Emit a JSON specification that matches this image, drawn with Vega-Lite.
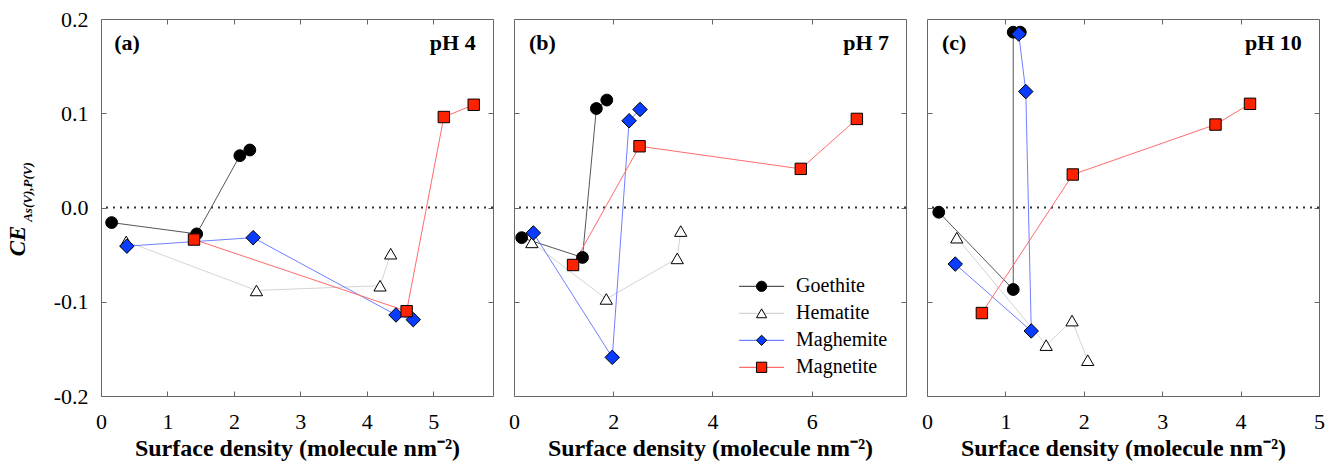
{
  "$schema": "https://vega.github.io/schema/vega-lite/v6.json",
  "background": "white",
  "padding": {"left": 5, "top": 7, "right": 5, "bottom": 2},
  "spacing": 13,
  "config": {
    "font": "Times New Roman",
    "view": {"stroke": "#666", "strokeWidth": 1},
    "axis": {
      "grid": false, "domain": false, "tickColor": "#666", "tickSize": -5, "tickWidth": 1,
      "labelFont": "Times New Roman", "labelFontSize": 22, "labelColor": "#000", "labelFontWeight": "normal",
      "labelFlush": false, "labelOverlap": false,
      "titleFont": "Liberation Serif", "titleColor": "#000", "titleFontSize": 24, "titleFontWeight": "bold"
    }
  },
  "datasets": {
    "pts": [
      {"pH": 4, "mineral": "Goethite", "step": 1, "x": 0.16, "y": -0.016},
      {"pH": 4, "mineral": "Goethite", "step": 2, "x": 1.44, "y": -0.028},
      {"pH": 4, "mineral": "Goethite", "step": 3, "x": 2.09, "y": 0.055},
      {"pH": 4, "mineral": "Goethite", "step": 4, "x": 2.24, "y": 0.061},
      {"pH": 4, "mineral": "Hematite", "step": 1, "x": 0.38, "y": -0.036},
      {"pH": 4, "mineral": "Hematite", "step": 2, "x": 2.34, "y": -0.088},
      {"pH": 4, "mineral": "Hematite", "step": 3, "x": 4.2, "y": -0.083},
      {"pH": 4, "mineral": "Hematite", "step": 4, "x": 4.36, "y": -0.049},
      {"pH": 4, "mineral": "Maghemite", "step": 1, "x": 0.39, "y": -0.041},
      {"pH": 4, "mineral": "Maghemite", "step": 2, "x": 2.29, "y": -0.032},
      {"pH": 4, "mineral": "Maghemite", "step": 3, "x": 4.44, "y": -0.114},
      {"pH": 4, "mineral": "Maghemite", "step": 4, "x": 4.7, "y": -0.119},
      {"pH": 4, "mineral": "Magnetite", "step": 1, "x": 1.4, "y": -0.034},
      {"pH": 4, "mineral": "Magnetite", "step": 2, "x": 4.6, "y": -0.11},
      {"pH": 4, "mineral": "Magnetite", "step": 3, "x": 5.16, "y": 0.096},
      {"pH": 4, "mineral": "Magnetite", "step": 4, "x": 5.61, "y": 0.109},
      {"pH": 7, "mineral": "Goethite", "step": 1, "x": 0.155, "y": -0.032},
      {"pH": 7, "mineral": "Goethite", "step": 2, "x": 1.38, "y": -0.053},
      {"pH": 7, "mineral": "Goethite", "step": 3, "x": 1.66, "y": 0.105},
      {"pH": 7, "mineral": "Goethite", "step": 4, "x": 1.87, "y": 0.114},
      {"pH": 7, "mineral": "Hematite", "step": 1, "x": 0.36, "y": -0.037},
      {"pH": 7, "mineral": "Hematite", "step": 2, "x": 1.86, "y": -0.097},
      {"pH": 7, "mineral": "Hematite", "step": 3, "x": 3.29, "y": -0.054},
      {"pH": 7, "mineral": "Hematite", "step": 4, "x": 3.36, "y": -0.025},
      {"pH": 7, "mineral": "Maghemite", "step": 1, "x": 0.39, "y": -0.027},
      {"pH": 7, "mineral": "Maghemite", "step": 2, "x": 1.98, "y": -0.159},
      {"pH": 7, "mineral": "Maghemite", "step": 3, "x": 2.32, "y": 0.092},
      {"pH": 7, "mineral": "Maghemite", "step": 4, "x": 2.54, "y": 0.104},
      {"pH": 7, "mineral": "Magnetite", "step": 1, "x": 1.19, "y": -0.061},
      {"pH": 7, "mineral": "Magnetite", "step": 2, "x": 2.53, "y": 0.065},
      {"pH": 7, "mineral": "Magnetite", "step": 3, "x": 5.78, "y": 0.041},
      {"pH": 7, "mineral": "Magnetite", "step": 4, "x": 6.91, "y": 0.094},
      {"pH": 10, "mineral": "Goethite", "step": 1, "x": 0.15, "y": -0.005},
      {"pH": 10, "mineral": "Goethite", "step": 2, "x": 1.1, "y": -0.087},
      {"pH": 10, "mineral": "Goethite", "step": 3, "x": 1.1, "y": 0.186},
      {"pH": 10, "mineral": "Goethite", "step": 4, "x": 1.19, "y": 0.186},
      {"pH": 10, "mineral": "Hematite", "step": 1, "x": 0.38, "y": -0.032},
      {"pH": 10, "mineral": "Hematite", "step": 2, "x": 1.52, "y": -0.146},
      {"pH": 10, "mineral": "Hematite", "step": 3, "x": 1.85, "y": -0.12},
      {"pH": 10, "mineral": "Hematite", "step": 4, "x": 2.05, "y": -0.162},
      {"pH": 10, "mineral": "Maghemite", "step": 1, "x": 0.36, "y": -0.06},
      {"pH": 10, "mineral": "Maghemite", "step": 2, "x": 1.33, "y": -0.131},
      {"pH": 10, "mineral": "Maghemite", "step": 3, "x": 1.26, "y": 0.123},
      {"pH": 10, "mineral": "Maghemite", "step": 4, "x": 1.17, "y": 0.184},
      {"pH": 10, "mineral": "Magnetite", "step": 1, "x": 0.7, "y": -0.112},
      {"pH": 10, "mineral": "Magnetite", "step": 2, "x": 1.86, "y": 0.035},
      {"pH": 10, "mineral": "Magnetite", "step": 3, "x": 3.68, "y": 0.088},
      {"pH": 10, "mineral": "Magnetite", "step": 4, "x": 4.12, "y": 0.11}
    ],
    "legendRows": [
      {"mineral": "Goethite"},
      {"mineral": "Hematite"},
      {"mineral": "Maghemite"},
      {"mineral": "Magnetite"}
    ]
  },
  "hconcat": [
    {
      "width": 392, "height": 377,
      "layer": [
        {
          "data": {"values": [{}]},
          "mark": {"type": "rule", "strokeDash": [2, 5], "strokeWidth": 2, "color": "#333"},
          "encoding": {
            "y": {"datum": 0, "type": "quantitative", "scale": {"domain": [-0.2, 0.2], "nice": false},
                  "axis": {"orient": "left", "labels": false, "ticks": false, "title": "As(V),P(V)", "titleFontSize": 13, "titleFontStyle": "italic", "titleFontWeight": "bold", "titleAngle": 270, "titleX": -69.7, "titleY": 172.5, "titleAlign": "center", "titleBaseline": "alphabetic"}}
          }
        },
        {
          "data": {"name": "pts"},
          "transform": [{"filter": "datum.pH == 4"}],
          "mark": {"type": "line", "strokeWidth": 1},
          "encoding": {
            "x": {"field": "x", "type": "quantitative", "scale": {"domain": [0, 5.9], "nice": false, "zero": false},
                  "axis": {"orient": "bottom", "values": [0, 1, 2, 3, 4, 5], "labelPadding": 20, "titlePadding": 4, "title": "Surface density (molecule nm⁻²)"}},
            "y": {"field": "y", "type": "quantitative", "scale": {"domain": [-0.2, 0.2], "nice": false},
                  "axis": {"orient": "left", "values": [-0.2, -0.1, 0, 0.1, 0.2], "labelExpr": "replace(format(datum.value, '.1f'), '\u2212', '-')", "labelPadding": 18, "title": "CE", "titleFontSize": 23, "titleFontStyle": "italic", "titleFontWeight": "bold", "titleAngle": 270, "titleX": -76.7, "titleY": 221.5, "titleAlign": "center", "titleBaseline": "alphabetic"}},
            "stroke": {"field": "mineral", "type": "nominal",
                       "scale": {"domain": ["Goethite", "Hematite", "Maghemite", "Magnetite"], "range": ["#555555", "#d4d4d4", "#6f7fff", "#ff6b6b"]},
                       "legend": null},
            "order": {"field": "step", "type": "quantitative"}
          }
        },
        {
          "data": {"name": "pts"},
          "transform": [{"filter": "datum.pH == 4"}],
          "mark": {"type": "point", "filled": true, "stroke": "#000", "strokeWidth": 1, "opacity": 1},
          "encoding": {
            "x": {"field": "x", "type": "quantitative", "axis": {"orient": "top", "labels": false, "title": null, "values": [1, 2, 3, 4, 5]}},
            "y": {"field": "y", "type": "quantitative", "axis": {"orient": "right", "labels": false, "title": null, "values": [-0.1, 0, 0.1]}},
            "shape": {"field": "mineral", "type": "nominal", "scale": {"domain": ["Goethite", "Hematite", "Maghemite", "Magnetite"], "range": ["circle", "triangle-up", "diamond", "square"]}, "legend": null},
            "fill": {"field": "mineral", "type": "nominal", "scale": {"domain": ["Goethite", "Hematite", "Maghemite", "Magnetite"], "range": ["#000000", "#ffffff", "#0a3cff", "#ff2200"]}, "legend": null},
            "size": {"field": "mineral", "type": "nominal", "scale": {"type": "ordinal", "domain": ["Goethite", "Hematite", "Maghemite", "Magnetite"], "range": [140, 150, 210, 130]}, "legend": null}
          }
        },
        {
          "data": {"values": [{}]},
          "mark": {"type": "text", "text": "(a)", "font": "Liberation Serif", "fontSize": 22, "fontWeight": "bold", "align": "left", "baseline": "alphabetic"},
          "encoding": {"x": {"datum": 0.2, "type": "quantitative", "axis": null}, "y": {"datum": 0.1675, "type": "quantitative", "axis": null}}
        },
        {
          "data": {"values": [{}]},
          "mark": {"type": "text", "text": "pH 4", "font": "Liberation Serif", "fontSize": 22, "fontWeight": "bold", "align": "right", "baseline": "alphabetic"},
          "encoding": {"x": {"datum": 5.64, "type": "quantitative", "axis": null}, "y": {"datum": 0.1675, "type": "quantitative", "axis": null}}
        }
      ],
      "resolve": {"axis": {"x": "independent", "y": "independent"}}
    },
    {
      "width": 392, "height": 377,
      "layer": [
        {
          "data": {"values": [{}]},
          "mark": {"type": "rule", "strokeDash": [2, 5], "strokeWidth": 2, "color": "#333"},
          "encoding": {
            "y": {"datum": 0, "type": "quantitative", "scale": {"domain": [-0.2, 0.2], "nice": false}, "axis": null}
          }
        },
        {
          "data": {"name": "pts"},
          "transform": [{"filter": "datum.pH == 7"}],
          "mark": {"type": "line", "strokeWidth": 1},
          "encoding": {
            "x": {"field": "x", "type": "quantitative", "scale": {"domain": [0, 7.9], "nice": false, "zero": false},
                  "axis": {"orient": "bottom", "values": [0, 2, 4, 6], "labelPadding": 20, "titlePadding": 4, "title": "Surface density (molecule nm⁻²)"}},
            "y": {"field": "y", "type": "quantitative", "scale": {"domain": [-0.2, 0.2], "nice": false},
                  "axis": {"orient": "left", "values": [-0.1, 0, 0.1], "labels": false, "title": null}},
            "stroke": {"field": "mineral", "type": "nominal", "scale": {"domain": ["Goethite", "Hematite", "Maghemite", "Magnetite"], "range": ["#555555", "#d4d4d4", "#6f7fff", "#ff6b6b"]}, "legend": null},
            "order": {"field": "step", "type": "quantitative"}
          }
        },
        {
          "data": {"name": "pts"},
          "transform": [{"filter": "datum.pH == 7"}],
          "mark": {"type": "point", "filled": true, "stroke": "#000", "strokeWidth": 1, "opacity": 1},
          "encoding": {
            "x": {"field": "x", "type": "quantitative", "axis": {"orient": "top", "labels": false, "title": null, "values": [2, 4, 6]}},
            "y": {"field": "y", "type": "quantitative", "scale": {"domain": [-0.2, 0.2], "nice": false}, "axis": {"orient": "right", "labels": false, "title": null, "values": [-0.1, 0, 0.1]}},
            "shape": {"field": "mineral", "type": "nominal", "scale": {"domain": ["Goethite", "Hematite", "Maghemite", "Magnetite"], "range": ["circle", "triangle-up", "diamond", "square"]}, "legend": null},
            "fill": {"field": "mineral", "type": "nominal", "scale": {"domain": ["Goethite", "Hematite", "Maghemite", "Magnetite"], "range": ["#000000", "#ffffff", "#0a3cff", "#ff2200"]}, "legend": null},
            "size": {"field": "mineral", "type": "nominal", "scale": {"type": "ordinal", "domain": ["Goethite", "Hematite", "Maghemite", "Magnetite"], "range": [140, 150, 210, 130]}, "legend": null}
          }
        },
        {
          "data": {"name": "legendRows"},
          "mark": {"type": "rule", "strokeWidth": 1.3},
          "encoding": {
            "x": {"datum": 4.536, "type": "quantitative", "axis": null},
            "x2": {"datum": 5.444},
            "y": {"field": "mineral", "type": "nominal", "axis": null, "scale": {"type": "point", "domain": ["Goethite", "Hematite", "Maghemite", "Magnetite"], "range": [267.3, 348.3], "padding": 0}},
            "stroke": {"field": "mineral", "type": "nominal", "scale": {"domain": ["Goethite", "Hematite", "Maghemite", "Magnetite"], "range": ["#555555", "#d4d4d4", "#6f7fff", "#ff6b6b"]}, "legend": null}
          }
        },
        {
          "data": {"name": "legendRows"},
          "mark": {"type": "point", "filled": true, "stroke": "#000", "strokeWidth": 1, "opacity": 1, "size": 105},
          "encoding": {
            "x": {"datum": 4.99, "type": "quantitative", "axis": null},
            "y": {"field": "mineral", "type": "nominal", "axis": null, "scale": {"type": "point", "domain": ["Goethite", "Hematite", "Maghemite", "Magnetite"], "range": [267.3, 348.3], "padding": 0}},
            "shape": {"field": "mineral", "type": "nominal", "scale": {"domain": ["Goethite", "Hematite", "Maghemite", "Magnetite"], "range": ["circle", "triangle-up", "diamond", "square"]}, "legend": null},
            "fill": {"field": "mineral", "type": "nominal", "scale": {"domain": ["Goethite", "Hematite", "Maghemite", "Magnetite"], "range": ["#000000", "#ffffff", "#0a3cff", "#ff2200"]}, "legend": null}
          }
        },
        {
          "data": {"name": "legendRows"},
          "mark": {"type": "text", "font": "Times New Roman", "fontSize": 20, "fontWeight": "normal", "align": "left", "baseline": "middle", "color": "#000"},
          "encoding": {
            "x": {"datum": 5.685, "type": "quantitative", "axis": null},
            "y": {"field": "mineral", "type": "nominal", "axis": null, "scale": {"type": "point", "domain": ["Goethite", "Hematite", "Maghemite", "Magnetite"], "range": [267.3, 348.3], "padding": 0}},
            "text": {"field": "mineral", "type": "nominal"}
          }
        },
        {
          "data": {"values": [{}]},
          "mark": {"type": "text", "text": "(b)", "font": "Liberation Serif", "fontSize": 22, "fontWeight": "bold", "align": "left", "baseline": "alphabetic"},
          "encoding": {"x": {"datum": 0.3, "type": "quantitative", "axis": null}, "y": {"datum": 0.1675, "type": "quantitative", "scale": {"domain": [-0.2, 0.2], "nice": false}, "axis": null}}
        },
        {
          "data": {"values": [{}]},
          "mark": {"type": "text", "text": "pH 7", "font": "Liberation Serif", "fontSize": 22, "fontWeight": "bold", "align": "right", "baseline": "alphabetic"},
          "encoding": {"x": {"datum": 7.56, "type": "quantitative", "axis": null}, "y": {"datum": 0.1675, "type": "quantitative", "scale": {"domain": [-0.2, 0.2], "nice": false}, "axis": null}}
        }
      ],
      "resolve": {"scale": {"y": "independent"}, "axis": {"x": "independent", "y": "independent"}}
    },
    {
      "width": 392, "height": 377,
      "layer": [
        {
          "data": {"values": [{}]},
          "mark": {"type": "rule", "strokeDash": [2, 5], "strokeWidth": 2, "color": "#333"},
          "encoding": {
            "y": {"datum": 0, "type": "quantitative", "scale": {"domain": [-0.2, 0.2], "nice": false}, "axis": null}
          }
        },
        {
          "data": {"name": "pts"},
          "transform": [{"filter": "datum.pH == 10"}],
          "mark": {"type": "line", "strokeWidth": 1},
          "encoding": {
            "x": {"field": "x", "type": "quantitative", "scale": {"domain": [0, 5], "nice": false, "zero": false},
                  "axis": {"orient": "bottom", "values": [0, 1, 2, 3, 4, 5], "labelPadding": 20, "titlePadding": 4, "title": "Surface density (molecule nm⁻²)"}},
            "y": {"field": "y", "type": "quantitative", "scale": {"domain": [-0.2, 0.2], "nice": false},
                  "axis": {"orient": "left", "values": [-0.1, 0, 0.1], "labels": false, "title": null}},
            "stroke": {"field": "mineral", "type": "nominal", "scale": {"domain": ["Goethite", "Hematite", "Maghemite", "Magnetite"], "range": ["#555555", "#d4d4d4", "#6f7fff", "#ff6b6b"]}, "legend": null},
            "order": {"field": "step", "type": "quantitative"}
          }
        },
        {
          "data": {"name": "pts"},
          "transform": [{"filter": "datum.pH == 10"}],
          "mark": {"type": "point", "filled": true, "stroke": "#000", "strokeWidth": 1, "opacity": 1},
          "encoding": {
            "x": {"field": "x", "type": "quantitative", "axis": {"orient": "top", "labels": false, "title": null, "values": [1, 2, 3, 4]}},
            "y": {"field": "y", "type": "quantitative", "axis": {"orient": "right", "labels": false, "title": null, "values": [-0.1, 0, 0.1]}},
            "shape": {"field": "mineral", "type": "nominal", "scale": {"domain": ["Goethite", "Hematite", "Maghemite", "Magnetite"], "range": ["circle", "triangle-up", "diamond", "square"]}, "legend": null},
            "fill": {"field": "mineral", "type": "nominal", "scale": {"domain": ["Goethite", "Hematite", "Maghemite", "Magnetite"], "range": ["#000000", "#ffffff", "#0a3cff", "#ff2200"]}, "legend": null},
            "size": {"field": "mineral", "type": "nominal", "scale": {"type": "ordinal", "domain": ["Goethite", "Hematite", "Maghemite", "Magnetite"], "range": [140, 150, 210, 130]}, "legend": null}
          }
        },
        {
          "data": {"values": [{}]},
          "mark": {"type": "text", "text": "(c)", "font": "Liberation Serif", "fontSize": 22, "fontWeight": "bold", "align": "left", "baseline": "alphabetic"},
          "encoding": {"x": {"datum": 0.19, "type": "quantitative", "axis": null}, "y": {"datum": 0.1675, "type": "quantitative", "axis": null}}
        },
        {
          "data": {"values": [{}]},
          "mark": {"type": "text", "text": "pH 10", "font": "Liberation Serif", "fontSize": 22, "fontWeight": "bold", "align": "right", "baseline": "alphabetic"},
          "encoding": {"x": {"datum": 4.78, "type": "quantitative", "axis": null}, "y": {"datum": 0.1675, "type": "quantitative", "axis": null}}
        }
      ],
      "resolve": {"axis": {"x": "independent", "y": "independent"}}
    }
  ]
}
